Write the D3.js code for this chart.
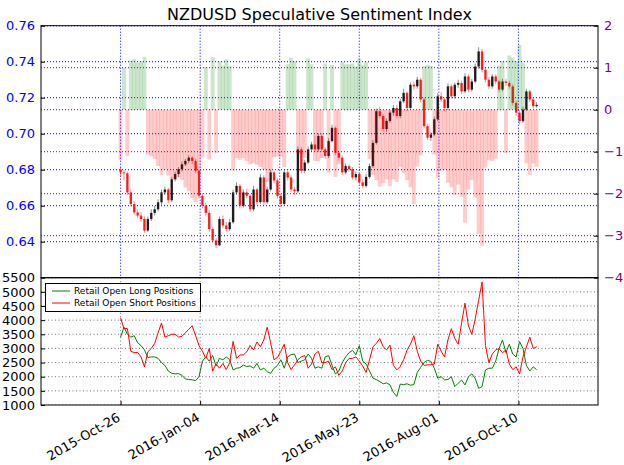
<!DOCTYPE html>
<html><head><meta charset="utf-8">
<script src="https://cdn.jsdelivr.net/npm/d3@7"></script>
<style>body{margin:0;background:#fff} text{font-family:"DejaVu Sans",sans-serif}</style>
</head><body><svg id="c" width="624" height="465"></svg>
<script>
const title = "NZDUSD Speculative Sentiment Index";
const startDate = "2015-10-26";
const stepDays = 3;
const firstOpen = 0.6800;
const close = [
0.6785,0.678,0.6674,0.6609,0.6563,0.6545,0.6526,0.6462,0.6526,0.656,
0.658,0.6619,0.6674,0.669,0.663,0.6747,0.6776,0.6803,0.683,0.6849,
0.6867,0.6849,0.6794,0.6655,0.660,0.656,0.647,0.6407,0.638,0.6526,
0.649,0.647,0.6508,0.6674,0.671,0.660,0.6674,0.6655,0.658,0.669,
0.662,0.6757,0.662,0.669,0.6785,0.674,0.6655,0.661,0.6785,0.6757,
0.669,0.668,0.6913,0.6794,0.684,0.6913,0.694,0.6913,0.6987,0.6913,
0.6876,0.6959,0.7033,0.6894,0.6867,0.6785,0.682,0.6803,0.6757,0.6776,
0.673,0.671,0.676,0.682,0.6949,0.7125,0.7098,0.7026,0.7071,0.7117,
0.7143,0.7098,0.718,0.7227,0.7143,0.7272,0.7263,0.730,0.719,0.7042,
0.6978,0.6996,0.708,0.7208,0.719,0.7143,0.7263,0.7208,0.7272,0.7282,
0.7235,0.7318,0.7245,0.729,0.7373,0.7457,0.7355,0.730,0.7263,0.7318,
0.729,0.7245,0.729,0.7282,0.7263,0.7171,0.7117,0.707,0.7134,0.7235,
0.719,0.7153,0.716];
const high = [
.6815,.6800,.6790,.6690,.6625,.6580,.6565,.6540,.6540,.6580,
.6600,.6635,.6690,.6705,.6700,.6760,.6790,.6815,.6845,.6860,
.6880,.6875,.6860,.6800,.6670,.6615,.6575,.6480,.6420,.6540,
.6545,.6510,.6525,.6690,.6730,.6720,.6690,.6695,.6665,.6710,
.6700,.6775,.6770,.6705,.6800,.6795,.6750,.6665,.6800,.6795,
.6770,.6705,.6930,.6925,.6855,.6930,.6955,.6990,.7000,.7000,
.6925,.6975,.7050,.7040,.6905,.6880,.6835,.6830,.6815,.6790,
.6785,.6745,.6775,.6835,.6965,.7140,.7150,.7110,.7085,.7130,
.7160,.7160,.7195,.7250,.7235,.7285,.7290,.7315,.7310,.7200,
.7055,.7010,.7095,.7225,.7230,.7200,.7280,.7275,.7285,.7300,
.7295,.7335,.7330,.7305,.7390,.7480,.7470,.7370,.7315,.7330,
.7330,.7300,.7305,.7305,.7295,.7275,.7185,.7130,.7150,.7250,
.7245,.7200,.7175];
const low = [
.6760,.6740,.6660,.6595,.6550,.6530,.6510,.6450,.6455,.6515,
.6545,.6570,.6605,.6660,.6615,.6620,.6735,.6760,.6790,.6820,
.6835,.6830,.6780,.6640,.6585,.6545,.6455,.6395,.6365,.6375,
.6475,.6455,.6460,.6500,.6660,.6585,.6590,.6640,.6565,.6570,
.6605,.6610,.6605,.6610,.6680,.6725,.6640,.6590,.6600,.6740,
.6675,.6660,.6670,.6780,.6780,.6830,.6900,.6900,.6900,.6900,
.6860,.6865,.6950,.6880,.6850,.6770,.6775,.6790,.6745,.6740,
.6720,.6695,.6700,.6750,.6810,.6940,.7085,.7010,.7010,.7060,
.7100,.7085,.7085,.7170,.7125,.7130,.7245,.7250,.7175,.7030,
.6965,.6960,.6985,.7070,.7175,.7125,.7130,.7195,.7195,.7255,
.7220,.7225,.7230,.7235,.7280,.7360,.7340,.7285,.7250,.7250,
.7275,.7230,.7235,.7265,.7250,.7155,.7100,.7050,.7060,.7125,
.7175,.7140,.7145];
const sentiment = [
-1.2,1.0,-1.1,1.17,1.21,1.12,1.15,1.26,-1.07,-1.11,
-1.18,-1.34,-1.56,-1.42,-1.57,-1.65,-1.67,-1.61,-1.67,-1.85,
-1.94,-2.1,-2.2,-1.55,-1.14,1.02,-1.18,1.25,-1.03,1.15,
1.05,1.2,1.04,-1.45,-1.15,-1.19,-1.15,-1.22,-1.3,-1.28,
-1.31,-1.37,-1.43,-1.72,-1.51,-1.13,-1.12,-1.12,-1.37,1.08,
1.24,1.16,-1.04,-1.06,-1.15,1.22,1.08,-1.22,-1.23,-1.15,
1.1,-1.5,1.07,-1.6,-1.3,1.14,1.08,1.08,1.1,1.03,
1.22,1.07,1.14,-1.18,-1.56,-1.67,-1.83,-1.75,-1.66,-1.82,
-1.66,-1.72,-1.36,-1.51,-1.68,-1.85,-2.25,-1.35,-1.09,1.04,
1.07,1.05,-1.07,-1.62,-1.45,-1.43,-1.74,-1.85,-2.03,-1.78,
-2.07,-2.69,-1.9,-1.67,-2.09,-2.96,-3.24,-1.38,-1.2,-1.22,
-1.16,1.05,1.16,-1.03,1.29,1.24,1.15,1.54,1.11,-1.27,
-1.55,-1.28,-1.36];
const longPositions = [
3400,3750,3500,3400,3450,3200,3100,2950,2680,2700,
2700,2650,2500,2400,2200,2120,2100,2110,2050,1920,
1900,1890,1860,2000,2550,2700,2550,2750,2380,2650,
2600,2700,2600,2240,2300,2320,2410,2360,2380,2300,
2470,2240,2300,2180,2120,2300,2400,2600,2300,2700,
2780,2800,2500,2550,2600,2800,2650,2300,2350,2300,
2700,2750,2400,2100,2200,2500,2700,2850,2930,2780,
3100,2550,2450,2200,1950,1900,1830,1750,1780,1710,
1450,1300,1740,1720,1750,1700,1720,2150,2330,2500,
2580,2540,2300,1950,2000,1890,1900,2000,1650,1770,
1880,1710,2000,2100,1940,1590,1650,2240,2300,2300,
2550,3000,3300,2850,3150,2800,2700,3240,3000,2400,
2200,2350,2250];
const shortPositions = [
4080,3700,3700,2900,2850,2860,2700,2350,2880,3000,
3180,3550,3900,3400,3450,3500,3500,3400,3430,3550,
3680,3800,3450,3100,2900,2650,3000,2200,2450,2300,
2470,2250,2500,3250,2650,2770,2770,2880,3100,2950,
3230,3060,3300,3750,3200,2600,2680,2900,3150,2500,
2250,2420,2600,2700,2750,2300,2450,2800,2900,2500,
2500,2550,2250,2350,2050,2200,2500,2640,2650,2700,
2550,2380,2150,2600,3050,3180,3350,3060,2950,3120,
2400,2240,2360,2600,2940,3150,3450,2900,2550,2400,
2420,2420,2450,3150,2900,2700,3300,3700,3350,3150,
3900,4600,3800,3500,4050,4700,5350,3100,2500,2800,
2950,2990,2850,2940,2450,2250,2350,2100,2700,3050,
3400,3000,3060];
const xTickLabels = ["2015-Oct-26","2016-Jan-04","2016-Mar-14","2016-May-23","2016-Aug-01","2016-Oct-10"];
const xDomain = ["2015-Aug-17","2016-Dec-19"];
const priceTicks = [0.64,0.66,0.68,0.70,0.72,0.74,0.76];
const priceDomain = [0.62,0.76];
const sentTicks = [-4,-3,-2,-1,0,1,2];
const posTicks = [1000,1500,2000,2500,3000,3500,4000,4500,5000,5500];
const legendLabels = ["Retail Open Long Positions","Retail Open Short Positions"];

const parse = d3.utcParse("%Y-%b-%d");
const start = d3.utcParse("%Y-%m-%d")(startDate);
const dates = close.map((_, i) => d3.utcDay.offset(start, i * stepDays));
const opens = close.map((c, i) => i === 0 ? firstOpen : close[i - 1]);

const svg = d3.select("#c");
const L = 41, R = 598, T = 25.7, M = 277.7, B = 405;
const x = d3.scaleUtc().domain(xDomain.map(parse)).range([L, R]);
const yP = d3.scaleLinear().domain(priceDomain).range([M, T]);
const yS = d3.scaleLinear().domain([sentTicks[0], sentTicks[sentTicks.length-1]]).range([M, T]);
const yV = d3.scaleLinear().domain([posTicks[0], posTicks[posTicks.length-1]]).range([B, M]);
const tickDates = xTickLabels.map(parse);

svg.append("defs").append("clipPath").attr("id","clipTop")
  .append("rect").attr("x",L).attr("y",T).attr("width",R-L).attr("height",M-T);
svg.select("defs").append("clipPath").attr("id","clipBot")
  .append("rect").attr("x",L).attr("y",M).attr("width",R-L).attr("height",B-M);

svg.append("text").attr("x",(L+R)/2).attr("y",20).attr("text-anchor","middle")
  .style("font-size","16px").text(title);

const gTop = svg.append("g").attr("clip-path","url(#clipTop)");
gTop.selectAll(".vg").data(tickDates).join("line")
  .attr("x1",d=>x(d)).attr("x2",d=>x(d)).attr("y1",T).attr("y2",M)
  .attr("stroke","#0000ff").attr("stroke-dasharray","1,2").attr("stroke-width",1);
gTop.selectAll(".hg").data(priceTicks).join("line")
  .attr("x1",L).attr("x2",R).attr("y1",d=>yP(d)).attr("y2",d=>yP(d))
  .attr("stroke","#0000ff").attr("stroke-dasharray","1,2").attr("stroke-width",1);

const bw = (x(dates[1]) - x(dates[0])) * 0.7;
const cg = gTop.append("g");
cg.selectAll(".wick").data(dates).join("line")
  .attr("x1",d=>x(d)).attr("x2",d=>x(d))
  .attr("y1",(d,i)=>yP(high[i])).attr("y2",(d,i)=>yP(low[i]))
  .attr("stroke",(d,i)=> close[i] >= opens[i] ? "#000" : "#ff0000")
  .attr("stroke-opacity",0.45).attr("stroke-width",1);
cg.selectAll(".body").data(dates).join("rect")
  .attr("x",d=>x(d)-bw/2).attr("width",bw)
  .attr("y",(d,i)=>yP(Math.max(opens[i],close[i])))
  .attr("height",(d,i)=>Math.max(0.8, Math.abs(yP(opens[i])-yP(close[i]))))
  .attr("fill",(d,i)=> close[i] >= opens[i] ? "#000" : "#ff0000")
  .attr("fill-opacity",0.85);

const sw = (x(dates[1]) - x(dates[0])) * 1.15;
gTop.selectAll(".sb").data(dates).join("rect")
  .attr("x",d=>x(d)-sw/2).attr("width",sw)
  .attr("y",(d,i)=>Math.min(yS(0),yS(sentiment[i])))
  .attr("height",(d,i)=>Math.abs(yS(sentiment[i])-yS(0)))
  .attr("fill",(d,i)=> sentiment[i] >= 0 ? "#008000" : "#ff0000")
  .attr("fill-opacity",0.2);

gTop.selectAll(".pg").data(sentTicks).join("line")
  .attr("x1",L).attr("x2",R).attr("y1",d=>yS(d)).attr("y2",d=>yS(d))
  .attr("stroke","#800080").attr("stroke-dasharray","1,2").attr("stroke-width",1);

const gBot = svg.append("g").attr("clip-path","url(#clipBot)");
gBot.selectAll(".bv").data(tickDates).join("line")
  .attr("x1",d=>x(d)).attr("x2",d=>x(d)).attr("y1",M).attr("y2",B)
  .attr("stroke","#777").attr("stroke-dasharray","1,2.5");
gBot.selectAll(".bh").data(posTicks).join("line")
  .attr("x1",L).attr("x2",R).attr("y1",d=>yV(d)).attr("y2",d=>yV(d))
  .attr("stroke","#777").attr("stroke-dasharray","1,2.5");

const line = d3.line().x((d,i)=>x(dates[i])).y(d=>yV(d));
gBot.append("path").datum(longPositions).attr("d",line)
  .attr("fill","none").attr("stroke","#008000").attr("stroke-width",1);
gBot.append("path").datum(shortPositions).attr("d",line)
  .attr("fill","none").attr("stroke","#ff0000").attr("stroke-width",1);

svg.append("rect").attr("x",L).attr("y",T).attr("width",R-L).attr("height",M-T)
  .attr("fill","none").attr("stroke","#000").attr("stroke-width",1);
svg.append("rect").attr("x",L).attr("y",M).attr("width",R-L).attr("height",B-M)
  .attr("fill","none").attr("stroke","#000").attr("stroke-width",1);

function styleAxis(g, color, size){
  g.select(".domain").remove();
  g.selectAll("text").style("font-size",size).attr("fill",color).style("font-family","DejaVu Sans");
  g.selectAll(".tick line").attr("stroke","#000");
}
const axP = svg.append("g").attr("transform",`translate(${L},0)`)
  .call(d3.axisLeft(yP).tickValues(priceTicks).tickFormat(d3.format(".2f")).tickSize(-4).tickPadding(6));
styleAxis(axP,"#0000ff","13px");
const axS = svg.append("g").attr("transform",`translate(${R},0)`)
  .call(d3.axisRight(yS).tickValues(sentTicks).tickFormat(d3.format("d")).tickSize(-4).tickPadding(6));
styleAxis(axS,"#800080","13px");
const axV = svg.append("g").attr("transform",`translate(${L},0)`)
  .call(d3.axisLeft(yV).tickValues(posTicks).tickFormat(d=>String(d)).tickSize(-4).tickPadding(6));
styleAxis(axV,"#000","13px");
const axX = svg.append("g").attr("transform",`translate(0,${B})`)
  .call(d3.axisBottom(x).tickValues(tickDates).tickFormat(d3.utcFormat("%Y-%b-%d")).tickSize(-4));
styleAxis(axX,"#000","13px");
axX.selectAll("text").attr("text-anchor","end").attr("dy",null)
  .attr("y",0).attr("transform","translate(0,15) rotate(-30)");

const lg = svg.append("g");
lg.append("rect").attr("x",45.5).attr("y",283.5).attr("width",155).attr("height",28)
  .attr("fill","#fff").attr("stroke","#000").attr("stroke-width",1);
const lc = ["#008000","#ff0000"];
legendLabels.forEach((t,i)=>{
  const yy = 291 + i*12;
  lg.append("line").attr("x1",52).attr("x2",70).attr("y1",yy).attr("y2",yy).attr("stroke",lc[i]);
  lg.append("text").attr("x",74).attr("y",yy+3.3).style("font-size","9px").text(t);
});
</script></body></html>
